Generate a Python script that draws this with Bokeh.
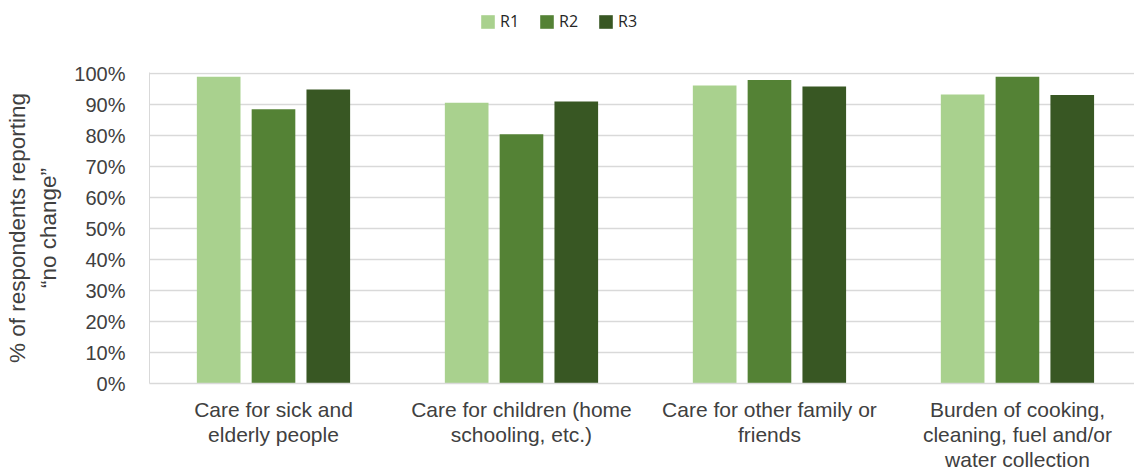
from bokeh.plotting import figure
from bokeh.layouts import column
from bokeh.models import ColumnDataSource, Range1d, FixedTicker, Legend, LegendItem
from bokeh.transform import dodge
from bokeh.embed import file_html
from bokeh.resources import INLINE

# Share of respondents reporting "no change", by activity and survey round
categories = [
    "Care for sick and\nelderly people",
    "Care for children (home\nschooling, etc.)",
    "Care for other family or\nfriends",
    "Burden of cooking,\ncleaning, fuel and/or\nwater collection",
]
rounds = ["R1", "R2", "R3"]
r1 = [99.0, 90.6, 96.2, 93.3]
r2 = [88.5, 80.5, 98.0, 99.0]
r3 = [94.9, 91.0, 95.9, 93.1]
y_ticks = list(range(0, 101, 10))
colors = ["#A9D18E", "#548235", "#385723"]

centers = [i + 0.5 for i in range(len(categories))]
source = ColumnDataSource(data=dict(xc=centers, R1=r1, R2=r2, R3=r3))

# --- main bar chart ---
p = figure(
    width=1134, height=418,
    x_range=Range1d(0, 3.972), y_range=Range1d(0, 100.4),
    output_backend="svg", toolbar_location=None,
    min_border_left=149, min_border_right=0,
    min_border_top=16, min_border_bottom=90,
)
p.outline_line_color = None

offsets = [-0.221, 0.0, 0.221]
for name, off, col in zip(rounds, offsets, colors):
    p.vbar(x=dodge("xc", off), top=name, width=0.176, bottom=0,
           source=source, fill_color=col, line_color=None)

# y axis
p.yaxis.ticker = FixedTicker(ticks=y_ticks)
p.yaxis.major_label_overrides = {t: f"{t}%" for t in y_ticks}
p.yaxis.major_tick_line_color = None
p.yaxis.minor_tick_line_color = None
p.yaxis.axis_line_color = "#d9d9d9"
p.yaxis.axis_line_width = 1
p.yaxis.major_label_standoff = 18
p.yaxis.major_label_text_font = "Liberation Sans"
p.yaxis.major_label_text_font_size = "20px"
p.yaxis.major_label_text_color = "#404040"
p.yaxis.axis_label = "% of respondents reporting\n\u201cno change\u201d"
p.yaxis.axis_label_text_font = "Liberation Sans"
p.yaxis.axis_label_text_font_size = "22.5px"
p.yaxis.axis_label_text_font_style = "normal"
p.yaxis.axis_label_text_color = "#404040"
p.yaxis.axis_label_text_line_height = 1.25
p.yaxis.axis_label_standoff = 10

# x axis
p.xaxis.ticker = FixedTicker(ticks=centers)
p.xaxis.major_label_overrides = {c: lab for c, lab in zip(centers, categories)}
p.xaxis.major_tick_line_color = None
p.xaxis.minor_tick_line_color = None
p.xaxis.axis_line_color = "#d9d9d9"
p.xaxis.axis_line_width = 1.5
p.xaxis.major_label_standoff = 8
p.xaxis.major_label_text_font = "Liberation Sans"
p.xaxis.major_label_text_font_size = "21px"
p.xaxis.major_label_text_color = "#404040"
p.xaxis.major_label_text_line_height = 1.1

p.xgrid.grid_line_color = None
p.ygrid.ticker = FixedTicker(ticks=y_ticks)
p.ygrid.grid_line_color = "#d9d9d9"
p.ygrid.grid_line_width = 1.5

# --- legend strip above the chart ---
lg = figure(
    width=1134, height=56, x_axis_type=None, y_axis_type=None,
    output_backend="svg", toolbar_location=None,
    min_border_left=149, min_border_right=0, min_border_top=0, min_border_bottom=0,
)
lg.outline_line_color = None
lg.xgrid.grid_line_color = None
lg.ygrid.grid_line_color = None
# zero-width bars: they carry the series colours for the legend swatches only
swatches = []
for name, col in zip(rounds, colors):
    swatches.append(lg.vbar(x="xc", top=name, width=0, source=source,
                            fill_color=col, line_color=None))

legend = Legend(
    items=[LegendItem(label=n, renderers=[r]) for n, r in zip(rounds, swatches)],
    orientation="horizontal", location=(330, 24),
    glyph_width=17, glyph_height=17, label_standoff=4, spacing=18,
    label_text_font="Open Sans", label_text_font_size="16px",
    label_text_color="#262626",
    border_line_color=None, background_fill_alpha=0,
)
lg.add_layout(legend)

layout = column(lg, p, spacing=0)
open("out.html", "w").write(file_html(layout, INLINE))
